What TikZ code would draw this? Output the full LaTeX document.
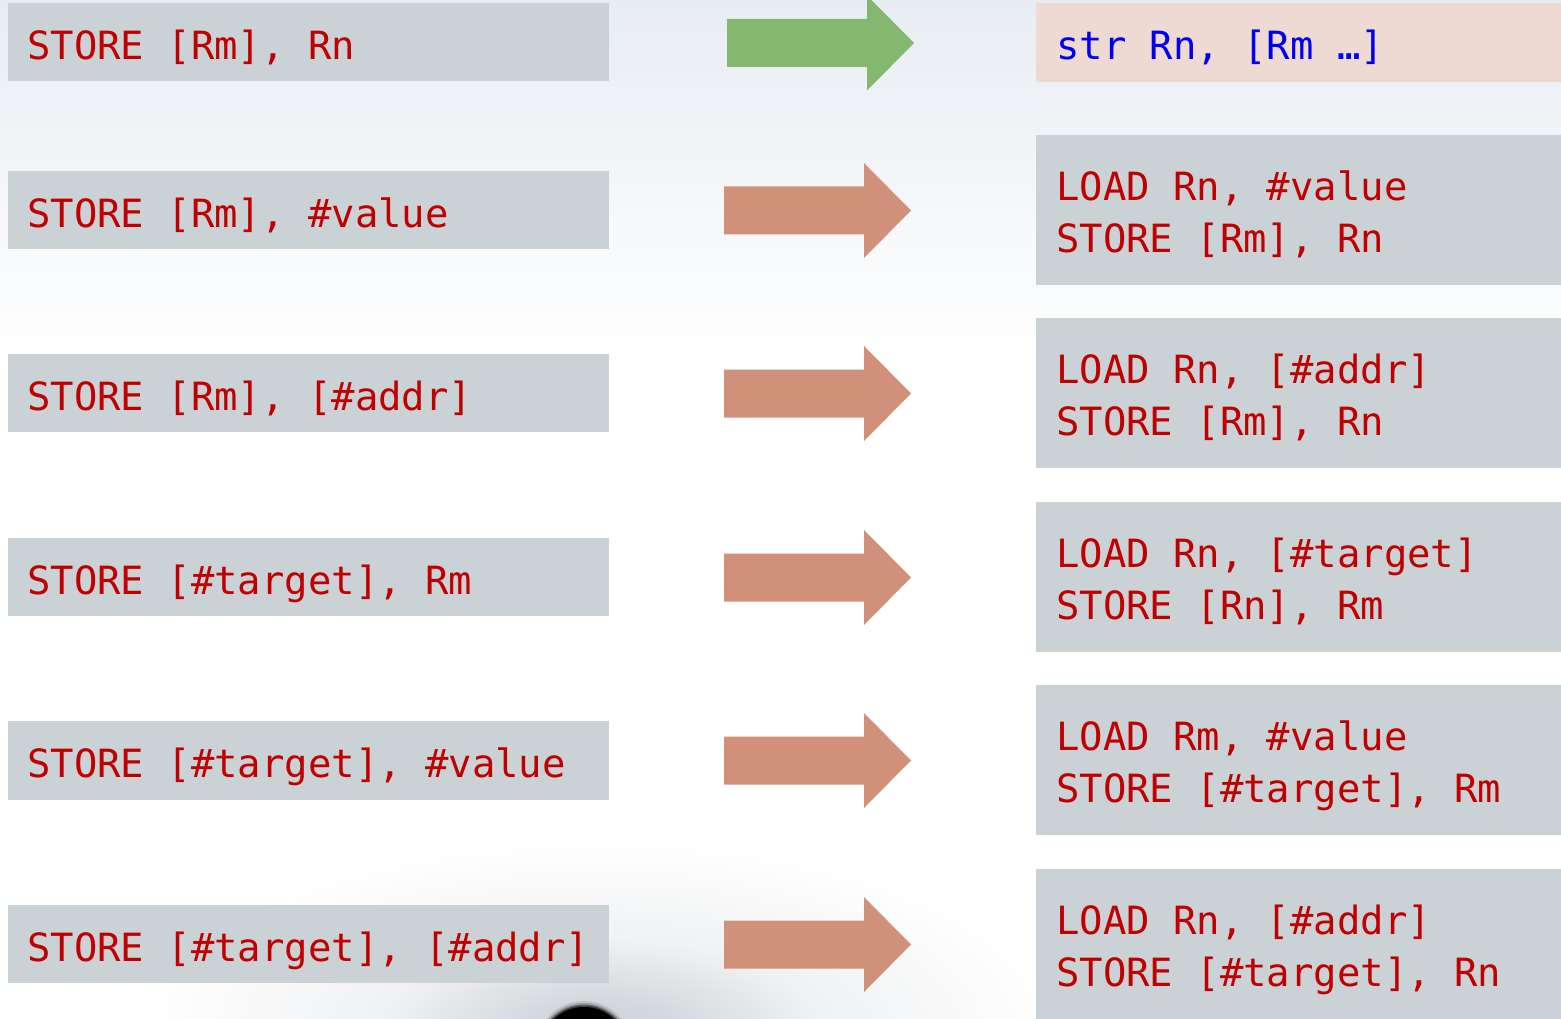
\documentclass[tikz,border=0pt]{standalone}
\usepackage{fontspec}
\newfontfamily\codefont{DejaVu Sans Mono}
\usetikzlibrary{calc}

\definecolor{boxgray}{HTML}{CBD2D6}
\definecolor{pinkbox}{HTML}{EFD9D3}
\definecolor{codered}{HTML}{C00000}
\definecolor{codeblue}{HTML}{0000F0}
\definecolor{arrowgreen}{HTML}{84B86E}
\definecolor{arrowsalmon}{HTML}{D1907A}
\definecolor{bgtop}{HTML}{E8EDF2}
\definecolor{hazegray}{HTML}{CDD2D7}

% soft grey smoke near the bottom edge (25bp is the rim of the path)
\pgfdeclareradialshading{haze}{\pgfpointorigin}{%
  color(0bp)=(hazegray); color(4bp)=(hazegray!85!white);
  color(12bp)=(hazegray!30!white); color(25bp)=(white); color(50bp)=(white)}

\tikzset{
  lbox/.style={rectangle, fill=boxgray, draw=none, inner sep=0pt,
    anchor=north west, minimum width=601pt, minimum height=78pt},
  rbox/.style={rectangle, fill=boxgray, draw=none, inner sep=0pt,
    anchor=north west, minimum width=525pt, minimum height=150pt},
  code/.style={font=\codefont\fontsize{38.9pt}{46pt}\selectfont,
    text=codered, inner sep=0pt, anchor=base west},
  fatarrow/.pic={
    \fill[pic actions] (0,-24) -- (140,-24) -- (140,-47.5) -- (187,0)
      -- (140,47.5) -- (140,24) -- (0,24) -- cycle;
  }
}

\begin{document}
\begin{tikzpicture}[x=1pt, y=-1pt]
  \useasboundingbox (0,0) rectangle (1561,1019);
  \begin{scope}
    \clip (0,0) rectangle (1561,1019);
    % background
    \fill[white] (0,0) rectangle (1561,1019);
    \shade[top color=bgtop, bottom color=white] (0,0) rectangle (1561,360);
    \shade[shading=haze] (600,1030) ellipse [x radius=460pt, y radius=190pt];
    \foreach \r/\o in {49/0.1, 47/0.18, 45.5/0.3, 44.5/0.45}
      \fill[black, opacity=\o] (584,1050) circle (\r pt);
    \fill[black] (584,1050) circle (43pt);
  \end{scope}

  % source instructions
  \node[lbox] (l1) at (8,3)   {};
  \node[lbox] (l2) at (8,171) {};
  \node[lbox] (l3) at (8,354) {};
  \node[lbox] (l4) at (8,538) {};
  \node[lbox, minimum height=79pt] (l5) at (8,721) {};
  \node[lbox] (l6) at (8,905) {};

  \node[code] (t1) at ($(l1.west)+(19,17)$) {STORE [Rm], Rn};
  \node[code] (t2) at ($(l2.west)+(19,17)$) {STORE [Rm], \#value};
  \node[code] (t3) at ($(l3.west)+(19,17)$) {STORE [Rm], [\#addr]};
  \node[code] (t4) at ($(l4.west)+(19,17)$) {STORE [\#target], Rm};
  \node[code] (t5) at ($(l5.west)+(19,17)$) {STORE [\#target], \#value};
  \node[code] (t6) at ($(l6.west)+(19,17)$) {STORE [\#target], [\#addr]};

  % translations
  \node[rbox, fill=pinkbox, minimum height=79pt] (r1) at (1036,3) {};
  \node[rbox] (r2) at (1036,135) {};
  \node[rbox] (r3) at (1036,318) {};
  \node[rbox] (r4) at (1036,502) {};
  \node[rbox] (r5) at (1036,685) {};
  \node[rbox] (r6) at (1036,869) {};

  \node[code, text=codeblue] (u1) at ($(r1.west)+(20,17)$) {str Rn, [Rm …]};

  \node[code] (u2a) at ($(r2.west)+(20,-10)$) {LOAD Rn, \#value};
  \node[code] (u2b) at ($(r2.west)+(20,42)$)  {STORE [Rm], Rn};
  \node[code] (u3a) at ($(r3.west)+(20,-10)$) {LOAD Rn, [\#addr]};
  \node[code] (u3b) at ($(r3.west)+(20,42)$)  {STORE [Rm], Rn};
  \node[code] (u4a) at ($(r4.west)+(20,-10)$) {LOAD Rn, [\#target]};
  \node[code] (u4b) at ($(r4.west)+(20,42)$)  {STORE [Rn], Rm};
  \node[code] (u5a) at ($(r5.west)+(20,-10)$) {LOAD Rm, \#value};
  \node[code] (u5b) at ($(r5.west)+(20,42)$)  {STORE [\#target], Rm};
  \node[code] (u6a) at ($(r6.west)+(20,-10)$) {LOAD Rn, [\#addr]};
  \node[code] (u6b) at ($(r6.west)+(20,42)$)  {STORE [\#target], Rn};

  % block arrows between the columns
  \pic[fill=arrowgreen]  at (727,43)    {fatarrow};
  \pic[fill=arrowsalmon] at (724,210.5) {fatarrow};
  \pic[fill=arrowsalmon] at (724,393.5) {fatarrow};
  \pic[fill=arrowsalmon] at (724,577.5) {fatarrow};
  \pic[fill=arrowsalmon] at (724,760.5) {fatarrow};
  \pic[fill=arrowsalmon] at (724,944.5) {fatarrow};
\end{tikzpicture}
\end{document}
